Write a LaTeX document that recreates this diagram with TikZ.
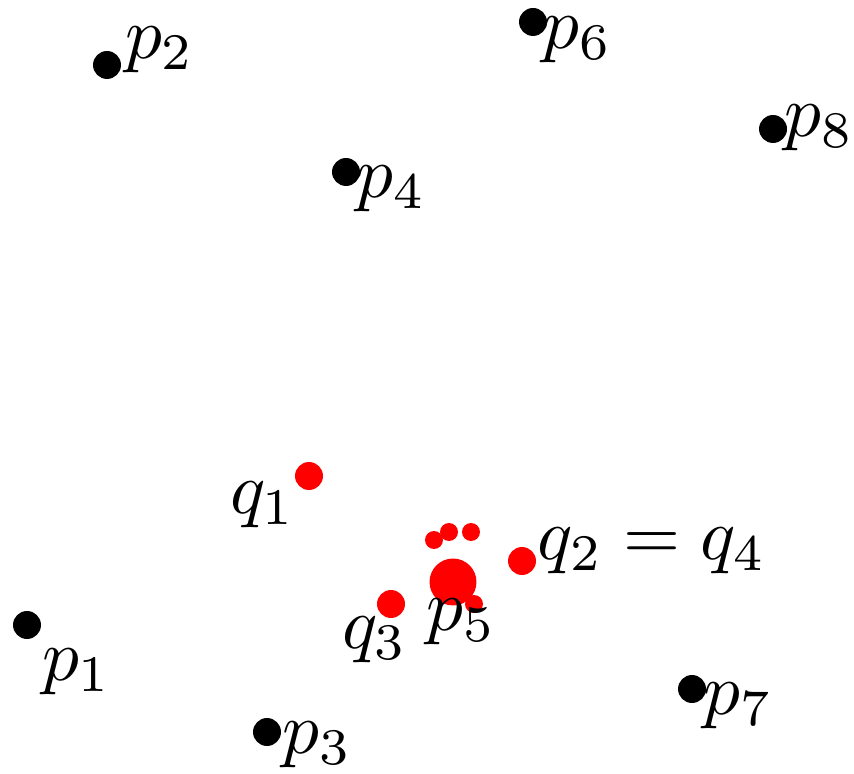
\documentclass[tikz,border=0pt]{standalone}
\usepackage{amsmath}
\usepackage{tikz}
\usetikzlibrary{positioning}
\newcommand{\ptlab}[1]{\scalebox{1.045}{$#1$}}

\begin{document}
\begin{tikzpicture}[x=0.005cm,y=-0.005cm,
   pt/.style={circle,fill=black,inner sep=0pt,minimum size=0.14cm},
   qpt/.style={circle,fill=red,inner sep=0pt,minimum size=0.14cm},
   tiny/.style={circle,fill=red,inner sep=0pt,minimum size=0.09cm},
   lab/.style={inner sep=0pt}]
  \useasboundingbox (0,0) rectangle (854,774);
  % data points
  \node[pt] (p1) at (27,625) {};
  \node[pt] (p2) at (107,65) {};
  \node[pt] (p3) at (267,732) {};
  \node[pt] (p4) at (346,172) {};
  \node[pt] (p5) at (453,582) {};
  \node[pt] (p6) at (533,22) {};
  \node[pt] (p7) at (692,689) {};
  \node[pt] (p8) at (773,129) {};
  \node[lab] (l1) at (77,672) {\ptlab{p_1}};
  \node[lab] (l2) at (160,50) {\ptlab{p_2}};
  \node[lab] (l3) at (317,745) {\ptlab{p_3}};
  \node[lab] (l4) at (391,189) {\ptlab{p_4}};
  \node[lab] (l6) at (577,40) {\ptlab{p_6}};
  \node[lab] (l7) at (738,706) {\ptlab{p_7}};
  \node[lab] (l8) at (819,128) {\ptlab{p_8}};
  % queries
  \node[qpt] (q1) at (309,476) {};
  \node[qpt] (q2) at (522,561) {};
  \node[qpt] (q3) at (391,604) {};
  \node[tiny] (s1) at (434,540) {};
  \node[tiny] (s2) at (449,532) {};
  \node[tiny] (s3) at (471,532) {};
  \node[tiny] (s4) at (474,604) {};
  \node[circle,fill=red,inner sep=0pt,minimum size=0.235cm] (c) at (p5) {};
  \node[lab] (l5) at (461,622) {\ptlab{p_5}};
  \node[lab] (m1) at (263,505) {\ptlab{q_1}};
  \node[lab] (m3) at (375,640) {\ptlab{q_3}};
  \node[lab] (m2) at (652,551) {\ptlab{q_2 = q_4}};
\end{tikzpicture}
\end{document}
